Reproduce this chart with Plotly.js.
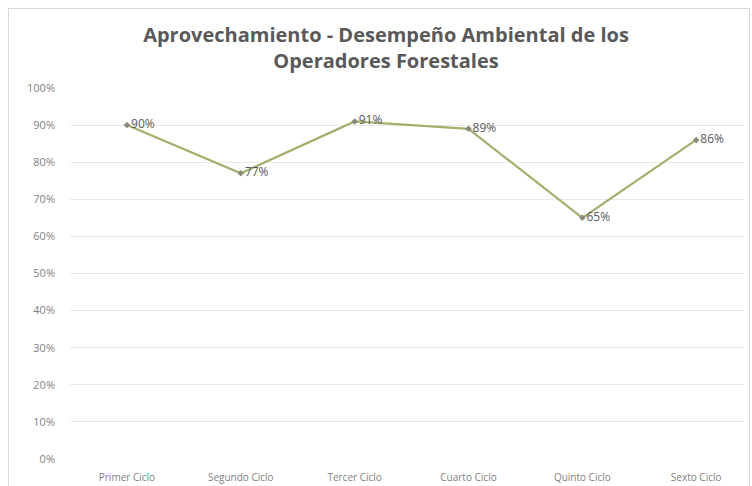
<!DOCTYPE html>
<html>
<head>
<meta charset="utf-8">
<script src="https://cdn.plot.ly/plotly-3.0.1.min.js"></script>
<style>
html,body{margin:0;padding:0;background:#fff;}
#chart{width:752px;height:486px;}
#frame{position:absolute;left:8px;top:8px;width:740px;height:490px;border:1px solid #d9d9d9;pointer-events:none;}
</style>
</head>
<body>
<div id="chart"></div>
<div id="frame"></div>
<script>
const categories = ["Primer Ciclo", "Segundo Ciclo", "Tercer Ciclo", "Cuarto Ciclo", "Quinto Ciclo", "Sexto Ciclo"];
const values = [0.90, 0.77, 0.91, 0.89, 0.65, 0.86];
const labels = ["90%", "77%", "91%", "89%", "65%", "86%"];
const yTicks = [0, 0.1, 0.2, 0.3, 0.4, 0.5, 0.6, 0.7, 0.8, 0.9, 1.0];
const yTickText = ["0%", "10%", "20%", "30%", "40%", "50%", "60%", "70%", "80%", "90%", "100%"];

const trace = {
  type: "scatter",
  mode: "lines+markers+text",
  x: categories,
  y: values,
  text: labels,
  textposition: "middle right",
  textfont: {family: "Open Sans, sans-serif", size: 12, color: "#595959"},
  line: {color: "#a3b06d", width: 2.2},
  marker: {symbol: "diamond", size: 5, color: "#8a8a7a"},
  cliponaxis: false,
  hoverinfo: "x+y"
};

const layout = {
  width: 752,
  height: 486,
  margin: {l: 70, r: 8, t: 88, b: 27},
  paper_bgcolor: "#ffffff",
  plot_bgcolor: "#ffffff",
  showlegend: false,
  title: {
    text: "<b>Aprovechamiento - Desempeño Ambiental de los<br>Operadores Forestales</b>",
    font: {family: "Open Sans, sans-serif", size: 20, color: "#595959"},
    x: 386/752,
    xref: "container",
    xanchor: "center",
    y: 1 - 42/486,
    yref: "container",
    yanchor: "middle"
  },
  xaxis: {
    type: "category",
    range: [-0.5, 5.42],
    showgrid: false,
    zeroline: false,
    showline: false,
    ticks: "",
    tickfont: {family: "Open Sans, sans-serif", size: 10, color: "#7f7f7f"},
    ticklabelstandoff: 11,
    fixedrange: true
  },
  yaxis: {
    range: [0, 1],
    tickvals: yTicks,
    ticktext: yTickText,
    showgrid: true,
    gridcolor: "#e9e9e9",
    gridwidth: 1,
    zeroline: false,
    showline: false,
    ticks: "",
    tickfont: {family: "Open Sans, sans-serif", size: 11, color: "#7f7f7f"},
    ticklabelstandoff: 14,
    fixedrange: true
  }
};

Plotly.newPlot("chart", [trace], layout, {displayModeBar: false, staticPlot: true});
</script>
</body>
</html>
